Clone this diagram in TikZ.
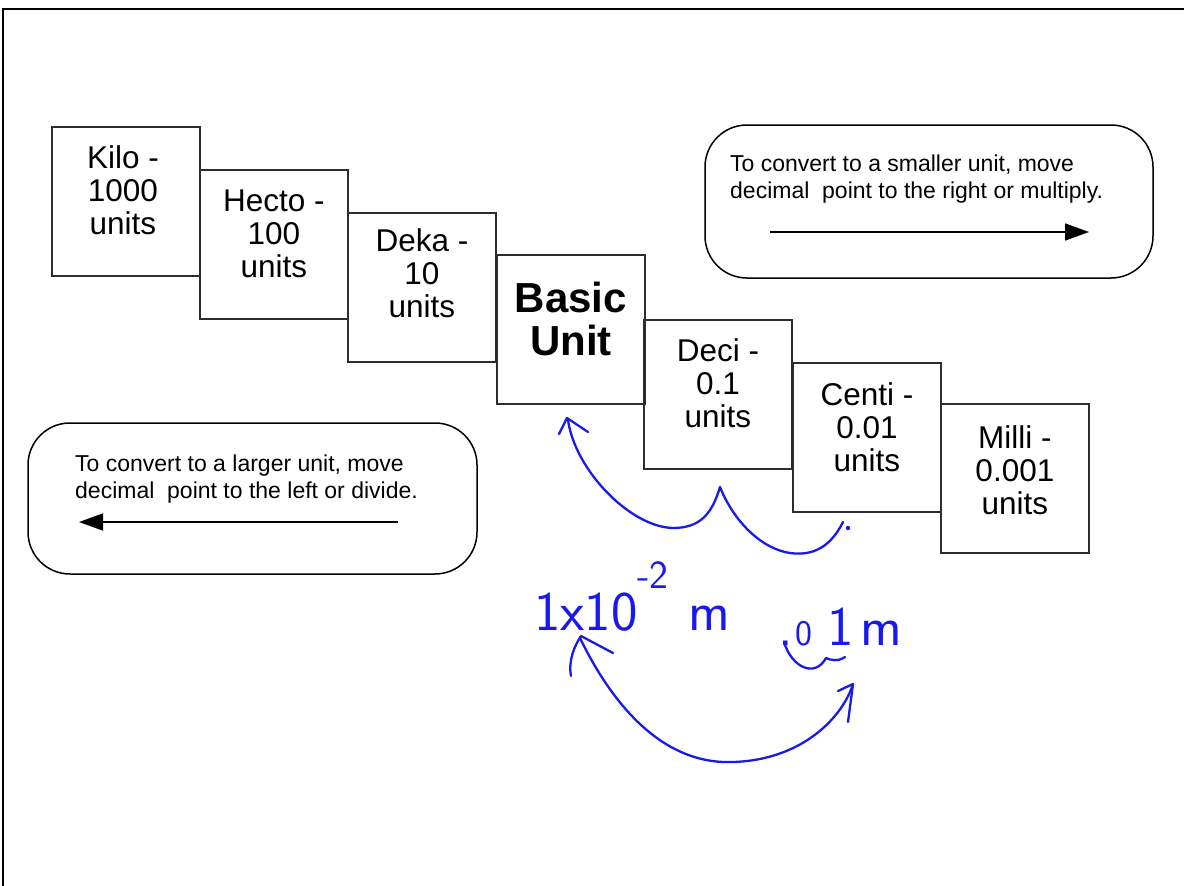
\documentclass[tikz,border=0pt]{standalone}
\usepackage{fontspec}
\setmainfont{Liberation Sans}
\usetikzlibrary{arrows.meta}
\definecolor{hand}{RGB}{25,25,235}
\definecolor{edge}{RGB}{45,45,45}
\begin{document}
\begin{tikzpicture}[x=1pt,y=-1pt,
  unitbox/.style={draw=edge,line width=1.8pt,minimum width=148pt,minimum height=149pt,inner sep=0pt,anchor=north west},
  unittext/.style={font=\fontsize{31.5}{33}\selectfont,align=center,inner sep=0pt,anchor=north},
  notebox/.style={draw=black,line width=1.5pt,rounded corners=42pt,inner sep=0pt},
  notetext/.style={font=\fontsize{23}{26.5}\selectfont,align=left,inner sep=0pt,anchor=north west},
  notearrow/.style={line width=1.6pt,-{Triangle[length=24pt,width=17pt]}},
  handline/.style={draw=hand,line width=2.3pt,line cap=round,line join=round},
  handtext/.style={text=hand,font=\sffamily\fontsize{56}{56}\selectfont,inner sep=0pt,anchor=base west}]
\useasboundingbox (0,0) rectangle (1184,886);
\clip (0,0) rectangle (1184,886);
\fill[white] (0,0) rectangle (1184,886);
% outer frame
\draw[line width=2.5pt] (1200,9) -- (3,9) -- (3,900);

% unit boxes
\node[unitbox] (kilo)  at (51,126)  {};
\node[unitbox] (hecto) at (199,169) {};
\node[unitbox] (deka)  at (347,212) {};
\node[unitbox] (basic) at (496,254) {};
\node[unitbox] (deci)  at (643,319) {};
\node[unitbox] (centi) at (792,362) {};
\node[unitbox] (milli) at (940,403) {};

\node[unittext] (tkilo)  at ([xshift=-3pt,yshift=-19pt]kilo.north)  {Kilo -\\1000\\units};
\node[unittext] (thecto) at ([yshift=-21pt]hecto.north) {Hecto -\\100\\units};
\node[unittext] (tdeka)  at ([yshift=-16pt]deka.north)  {Deka -\\10\\units};
\node[unittext,font=\bfseries\fontsize{42}{43}\selectfont] (tbasic) at ([yshift=-28pt]basic.north) {Basic\\Unit};
\node[unittext] (tdeci)  at ([yshift=-19pt]deci.north)  {Deci -\\0.1\\units};
\node[unittext] (tcenti) at ([yshift=-20pt]centi.north) {Centi -\\0.01\\units};
\node[unittext] (tmilli) at ([yshift=-22pt]milli.north) {Milli -\\0.001\\units};

% note boxes
\node[notebox,minimum width=448pt,minimum height=153pt] (smaller) at (929,201.5) {};
\node[notetext] (tsmaller) at (730,155) {To convert to a smaller unit, move\\decimal\ \ point to the right or multiply.};
\coordinate (rs) at (770,232);
\coordinate (re) at (1089,232);
\draw[notearrow] (rs) -- (re);

\node[notebox,minimum width=449pt,minimum height=151pt] (larger) at (252.5,498.5) {};
\node[notetext] (tlarger) at (75,455) {To convert to a larger unit, move\\decimal\ \ point to the left or divide.};
\coordinate (ls) at (398,522);
\coordinate (le) at (79,522);
\draw[notearrow] (ls) -- (le);

% handwritten annotations
\coordinate (h1s) at (843,522);
\coordinate (h1b) at (790,553);
\coordinate (h1c) at (720,487);
\coordinate (h1d) at (673,528);
\coordinate (h1t) at (568,420);
\draw[handline] (h1s) .. controls (830,548) and (812,556) .. (h1b)
   .. controls (762,549) and (734,522) .. (h1c)
   .. controls (712,514) and (700,528) .. (h1d)
   .. controls (630,527) and (575,470) .. (h1t);
\draw[handline] (559,434) -- (567,418) -- (588,432);
\fill[hand] (848,528) circle (2.2pt);

\coordinate (h2a) at (580,638);
\coordinate (h2m) at (733,762);
\coordinate (h2b) at (852,687);
\draw[handline] (h2a) .. controls (610,700) and (660,765) .. (h2m)
   .. controls (800,760) and (840,720) .. (h2b);
\draw[handline] (571,676) .. controls (568,660) and (575,645) .. (581,636) -- (613,653);
\draw[handline] (838,691) -- (853,684) -- (848,722);

\node[handtext] (sci) at (534,630) {1x10\raisebox{42pt}{\fontsize{40}{40}\selectfont -2}\hspace{20pt}m};
\node[handtext] (dec) at (778,645) {.\hspace{3pt}{\fontsize{36}{36}\selectfont 0}\hspace{15pt}1\hspace{6pt}m};
\draw[handline] (784,642) .. controls (792,668) and (815,678) .. (826,658) .. controls (830,660) and (838,662) .. (845,657);
\end{tikzpicture}
\end{document}
